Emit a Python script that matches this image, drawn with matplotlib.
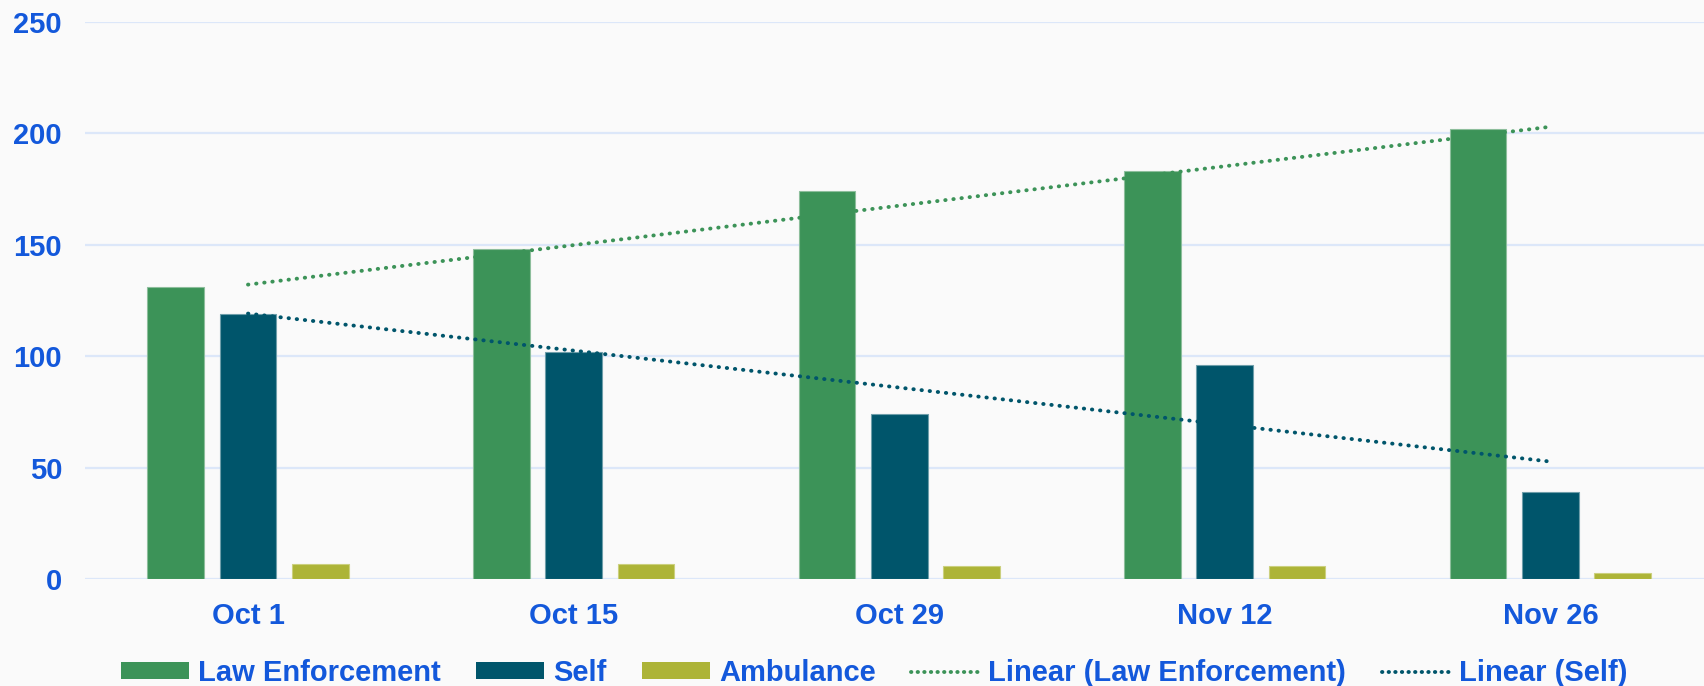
import numpy as np
import matplotlib
matplotlib.use("Agg")
import matplotlib.pyplot as plt
from matplotlib.patches import Patch
from matplotlib.lines import Line2D

categories = ["Oct 1", "Oct 15", "Oct 29", "Nov 12", "Nov 26"]
law_enforcement = [131, 148, 174, 183, 202]
self_vals = [119, 102, 74, 96, 39]
ambulance = [7, 7, 6, 6, 3]
y_ticks = [0, 50, 100, 150, 200, 250]

C_LE = "#3C9358"
C_SELF = "#00556B"
C_AMB = "#ADB437"
TXT = "#1358DB"
GRID = "#DCE7F9"
BG = "#FAFAFA"

plt.rcParams['font.family'] = ['Liberation Sans', 'DejaVu Sans']
FS = 21

fig = plt.figure(figsize=(17.04, 6.86), dpi=100, facecolor=BG)
ax = fig.add_axes([85/1704, (686-579.3)/686, 1619/1704, 557.3/686], facecolor=BG)

x = np.arange(len(categories))
w = 0.174
off = 0.222
ax.bar(x - off, law_enforcement, w, color=C_LE, edgecolor="#8DBE9C", linewidth=0.8, zorder=3)
ax.bar(x, self_vals, w, color=C_SELF, edgecolor="#6E9EAA", linewidth=0.8, zorder=3)
ax.bar(x + off, ambulance, w, color=C_AMB, edgecolor="#CBD07E", linewidth=0.8, zorder=3)

DOT = (0, (0.1, 2.0))
LW = 2.8
# linear trend lines (least squares fits of the series)
for vals, col in [(law_enforcement, C_LE), (self_vals, C_SELF)]:
    k, b = np.polyfit(x, vals, 1)
    ax.plot(x, k * x + b, color=col, lw=LW, linestyle=DOT,
            dash_capstyle='round', zorder=4)

ax.set_xlim(-0.5006, 4.4717)
ax.set_ylim(0, 250)
ax.set_yticks(y_ticks)
ax.set_yticklabels([str(t) for t in y_ticks])
ax.set_xticks(x)
ax.set_xticklabels(categories)
ax.grid(axis='y', color=GRID, linewidth=1.6, zorder=0)
ax.set_axisbelow(True)
for s in ax.spines.values():
    s.set_visible(False)
ax.tick_params(axis='both', length=0, labelsize=FS, labelcolor=TXT)
ax.tick_params(axis='y', pad=16.5)
ax.tick_params(axis='x', pad=16)
for lab in ax.get_xticklabels() + ax.get_yticklabels():
    lab.set_fontweight('bold')

handles = [
    Patch(facecolor=C_LE, edgecolor='none'),
    Patch(facecolor=C_SELF, edgecolor='none'),
    Patch(facecolor=C_AMB, edgecolor='none'),
    Line2D([0], [0], color=C_LE, lw=LW, linestyle=(0, (0.1, 1.6)), dash_capstyle='round'),
    Line2D([0], [0], color=C_SELF, lw=LW, linestyle=(0, (0.1, 1.6)), dash_capstyle='round'),
]
labels = ["Law Enforcement", "Self", "Ambulance", "Linear (Law Enforcement)", "Linear (Self)"]
leg = fig.legend(handles, labels, loc='center', bbox_to_anchor=(874/1704, (686-673)/686),
                 ncol=5, frameon=False, fontsize=FS, handlelength=2.33, handleheight=0.51,
                 handletextpad=0.3, columnspacing=1.23, borderpad=0)
for t in leg.get_texts():
    t.set_color(TXT)
    t.set_fontweight('bold')

fig.savefig("out.png", dpi=100, facecolor=BG)
